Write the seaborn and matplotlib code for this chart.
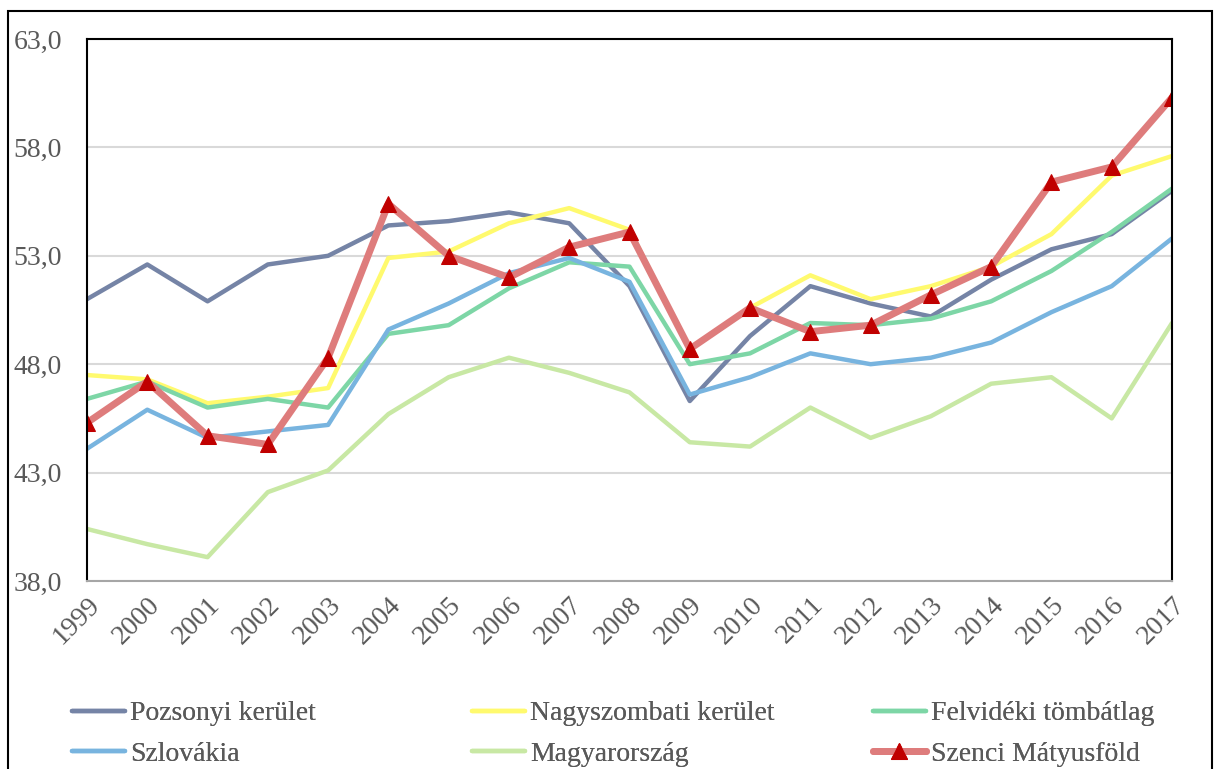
import pandas as pd
import matplotlib.pyplot as plt
import seaborn as sns
from matplotlib.patches import Rectangle
from matplotlib.ticker import FuncFormatter

sns.set_theme(style="white")
plt.rcParams["font.family"] = ["Liberation Serif", "DejaVu Serif"]

years = list(range(1999, 2018))

pozsonyi = [51.0, 52.6, 50.9, 52.6, 53.0, 54.4, 54.6, 55.0, 54.5, 51.6,
            46.3, 49.3, 51.6, 50.8, 50.2, 51.9, 53.3, 54.0, 56.0]
nagyszombati = [47.5, 47.3, 46.2, 46.5, 46.9, 52.9, 53.2, 54.5, 55.2, 54.2,
                48.7, 50.6, 52.1, 51.0, 51.6, 52.5, 54.0, 56.7, 57.6]
felvideki = [46.4, 47.2, 46.0, 46.4, 46.0, 49.4, 49.8, 51.5, 52.7, 52.5,
             48.0, 48.5, 49.9, 49.8, 50.1, 50.9, 52.3, 54.1, 56.1]
szlovakia = [44.1, 45.9, 44.6, 44.9, 45.2, 49.6, 50.8, 52.2, 52.9, 51.8,
             46.6, 47.4, 48.5, 48.0, 48.3, 49.0, 50.4, 51.6, 53.8]
magyarorszag = [40.4, 39.7, 39.1, 42.1, 43.1, 45.7, 47.4, 48.3, 47.6, 46.7,
                44.4, 44.2, 46.0, 44.6, 45.6, 47.1, 47.4, 45.5, 49.9]
szenci = [45.3, 47.2, 44.7, 44.3, 48.3, 55.4, 53.0, 52.0, 53.4, 54.1,
          48.7, 50.6, 49.5, 49.8, 51.2, 52.5, 56.4, 57.1, 60.3]

y_ticks = [38, 43, 48, 53, 58, 63]

series = [
    ("Pozsonyi kerület", pozsonyi, "#7584A6"),
    ("Nagyszombati kerület", nagyszombati, "#FFFA6E"),
    ("Felvidéki tömbátlag", felvideki, "#7DD6A6"),
    ("Szlovákia", szlovakia, "#78B4DF"),
    ("Magyarország", magyarorszag, "#C8E8A4"),
]

W, H = 1215, 769
fig = plt.figure(figsize=(W / 100, H / 100), dpi=100)
ax = fig.add_axes([87 / W, 188 / H, 1085 / W, 542 / H])

# outer chart frame
fig.patches.append(Rectangle((8 / W, -0.05), 1204 / W, 1.05 - 11 / H,
                             transform=fig.transFigure, fill=False,
                             edgecolor="black", linewidth=1.5))

for name, vals, color in series:
    sns.lineplot(x=years, y=vals, color=color, linewidth=3.2, ax=ax,
                 label=name, sort=False)

sns.lineplot(x=years, y=szenci, color="#DE7C7C", linewidth=5, ax=ax,
             label="Szenci Mátyusföld", sort=False, marker="^",
             markersize=12, markerfacecolor="#C00000",
             markeredgecolor="#C00000")

ax.set_xlim(1999, 2017)
ax.set_ylim(38, 63)
ax.set_yticks(y_ticks)
ax.set_xticks(years)
ax.yaxis.set_major_formatter(FuncFormatter(lambda v, p: f"{v:.1f}".replace(".", ",")))
ax.grid(axis="y", color="#D9D9D9", linewidth=1.5)
ax.set_axisbelow(True)

for side in ["left", "top", "right"]:
    ax.spines[side].set_color("black")
    ax.spines[side].set_linewidth(1.5)
ax.spines["bottom"].set_color("#A6A6A6")
ax.spines["bottom"].set_linewidth(1.5)

ax.tick_params(axis="both", length=0, labelsize=20, colors="#595959")
ax.tick_params(axis="y", pad=18)
ax.tick_params(axis="x", pad=8)
for lbl in ax.get_xticklabels():
    lbl.set_rotation(45)
    lbl.set_ha("right")
    lbl.set_rotation_mode("anchor")

# legend: three equally spaced columns, two rows each
h, l = ax.get_legend_handles_labels()
ax.get_legend().remove()
columns = [(0, 3), (1, 4), (2, 5)]
col_x = [72, 472, 873]
for (a, b), x0 in zip(columns, col_x):
    leg = fig.legend([h[a], h[b]], [l[a], l[b]], loc="upper left",
                     bbox_to_anchor=(x0 / W, 1 - 701 / H),
                     frameon=False, fontsize=20, labelcolor="#595959",
                     handlelength=1.9, handletextpad=0.2,
                     labelspacing=0.55, borderpad=0, borderaxespad=0)
    fig.add_artist(leg)

plt.savefig("out.png", dpi=100)
plt.close()
